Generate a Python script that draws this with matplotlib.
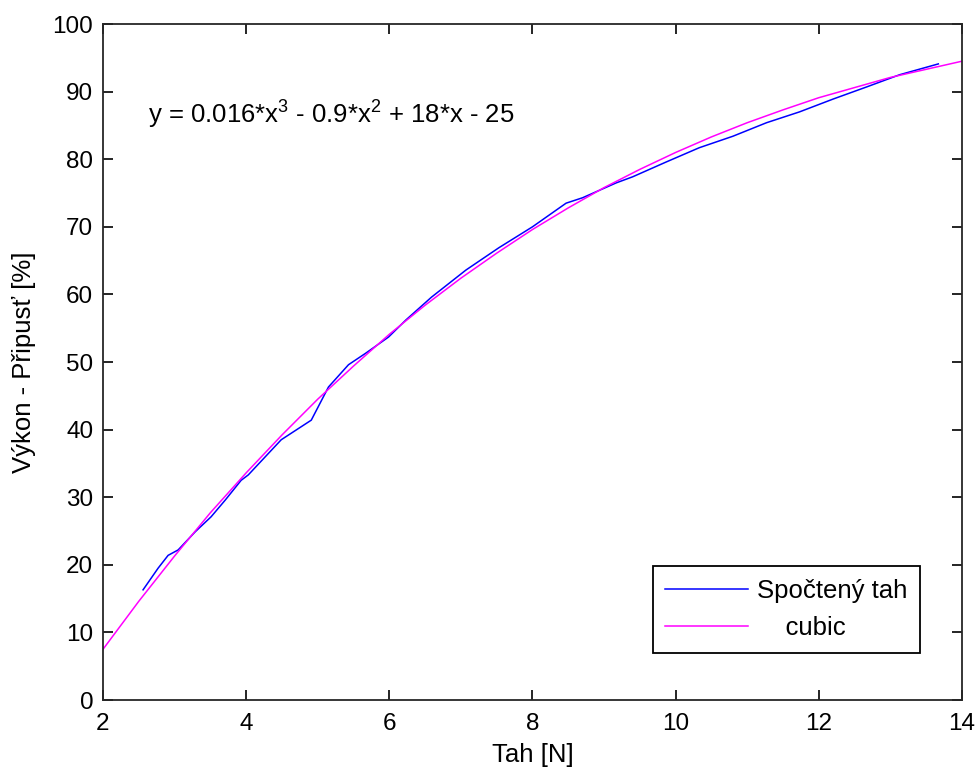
import numpy as np
import matplotlib
matplotlib.use("Agg")
import matplotlib.pyplot as plt

plt.rcParams['font.family'] = ['Liberation Sans', 'DejaVu Sans']
plt.rcParams['mathtext.fontset'] = 'custom'
plt.rcParams['mathtext.rm'] = 'Liberation Sans'
plt.rcParams['mathtext.it'] = 'Liberation Sans'

# computed pulling force
tah_x = [2.56, 2.77, 2.91, 3.05, 3.29, 3.51, 3.71, 3.93, 4.03, 4.49, 4.91, 5.15,
         5.43, 5.67, 5.99, 6.23, 6.59, 7.07, 7.53, 8.0, 8.47, 8.7, 9.17, 9.4,
         9.87, 10.33, 10.8, 11.27, 11.73, 12.2, 12.67, 13.13, 13.67]
tah_y = [16.3, 19.5, 21.4, 22.2, 24.9, 27.1, 29.6, 32.5, 33.3, 38.5, 41.4, 46.3,
         49.6, 51.3, 53.7, 56.2, 59.6, 63.6, 66.9, 70.0, 73.5, 74.3, 76.5, 77.4,
         79.6, 81.7, 83.4, 85.4, 87.0, 88.9, 90.7, 92.5, 94.1]

# cubic fit curve
cub_x = [2, 2.5, 3, 3.5, 4, 4.5, 5, 5.5, 6, 6.5, 7, 7.5, 8, 8.5, 9, 9.5,
         10, 10.5, 11, 11.5, 12, 12.5, 13, 13.5, 14]
cub_y = [7.5, 14.6, 21.3, 27.7, 33.6, 39.2, 44.5, 49.4, 54.1, 58.4, 62.4, 66.1,
         69.6, 72.8, 75.8, 78.5, 81.0, 83.3, 85.4, 87.3, 89.1, 90.6, 92.1, 93.3, 94.5]

fig = plt.figure(figsize=(9.77, 7.70), dpi=100)
ax = fig.add_axes([0.1054, 0.0909, 0.8792, 0.8779])

ax.plot(tah_x, tah_y, color='#0000ff', lw=1.1, label='Spočtený tah')
ax.plot(cub_x, cub_y, color='#ff00ff', lw=1.1, label='    cubic')

ax.set_xlim(2, 14)
ax.set_ylim(0, 100)
ax.set_xticks(np.arange(2, 15, 2))
ax.set_yticks(np.arange(0, 101, 10))
ax.tick_params(direction='in', top=True, right=True, labelsize=17.5, length=7, width=1.2)
ax.tick_params(axis='x', pad=9)
ax.tick_params(axis='y', pad=7)
for s in ax.spines.values():
    s.set_linewidth(1.3)
    s.set_color('#262626')

ax.set_xlabel('Tah [N]', fontsize=18.5, labelpad=6)
ax.set_ylabel('Výkon - Připusť [%]', fontsize=18.5, labelpad=12)

ax.text(2.63, 86.5, 'y = 0.016*x$^3$ - 0.9*x$^2$ + 18*x - 25', fontsize=18.5, va='center')

leg = ax.legend(loc='lower right', bbox_to_anchor=(0.951, 0.0695), fontsize=18.5,
                fancybox=False, edgecolor='black', framealpha=1, borderaxespad=0,
                handlelength=3.2, handletextpad=0.35, labelspacing=0.5, borderpad=0.5)
leg.get_frame().set_linewidth(1.3)

fig.savefig('out.png', dpi=100)
